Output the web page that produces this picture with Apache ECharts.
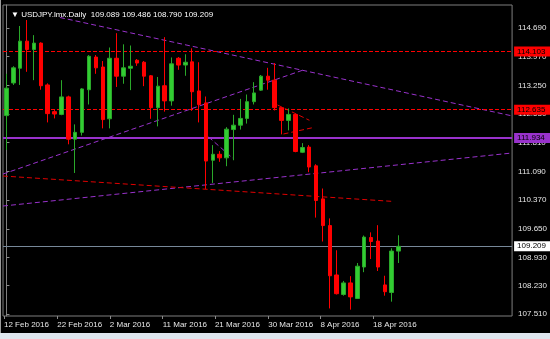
<!DOCTYPE html>
<html><head><meta charset="utf-8">
<script src="https://cdn.jsdelivr.net/npm/echarts@6/dist/echarts.min.js"></script>
<style>html,body{margin:0;padding:0;background:#000;}#c{width:550px;height:339px;}</style>
</head><body><div id="c"></div>
<script>
const symbolName = 'USDJPY.lmx.Daily';
const dates = ['2016-02-12','2016-02-14','2016-02-15','2016-02-16','2016-02-17','2016-02-18','2016-02-19',
 '2016-02-21','2016-02-22','2016-02-23','2016-02-24','2016-02-25','2016-02-26',
 '2016-02-28','2016-02-29','2016-03-01','2016-03-02','2016-03-03','2016-03-04',
 '2016-03-06','2016-03-07','2016-03-08','2016-03-09','2016-03-10','2016-03-11',
 '2016-03-13','2016-03-14','2016-03-15','2016-03-16','2016-03-17','2016-03-18',
 '2016-03-20','2016-03-21','2016-03-22','2016-03-23','2016-03-24','2016-03-25',
 '2016-03-27','2016-03-28','2016-03-29','2016-03-30','2016-03-31','2016-04-01',
 '2016-04-03','2016-04-04','2016-04-05','2016-04-06','2016-04-07','2016-04-08',
 '2016-04-10','2016-04-11','2016-04-12','2016-04-13','2016-04-14','2016-04-15',
 '2016-04-17','2016-04-18','2016-04-19'];
const opens  = [112.49,113.31,113.68,114.36,114.15,114.31,113.26,112.59,112.52,112.96,111.90,112.07,113.14,113.96,113.71,112.41,113.93,113.48,113.68,113.88,113.83,113.49,112.69,113.24,112.86,113.93,113.76,113.84,113.11,112.81,111.37,111.52,111.43,112.14,112.25,112.42,112.84,113.13,113.48,113.38,112.69,112.37,112.52,111.57,111.70,111.23,110.40,109.73,108.49,108.00,108.29,107.90,108.69,109.43,109.34,108.24,108.05,109.089];
const closes = [113.18,113.69,114.36,114.15,114.31,113.24,112.54,112.53,112.96,111.90,112.07,113.16,113.98,113.69,112.39,113.93,113.48,113.69,113.73,113.81,113.48,112.69,113.23,112.86,113.79,113.76,113.83,113.09,112.77,111.35,111.52,111.43,112.15,112.25,112.42,112.84,113.06,113.48,113.38,112.69,112.37,112.52,111.59,111.69,111.20,110.36,109.73,108.47,108.02,108.29,107.94,108.71,109.44,109.33,108.69,108.07,109.09,109.209];
const lows   = [111.63,113.26,113.26,113.59,113.38,113.14,112.32,112.42,112.50,111.77,111.05,111.99,112.77,113.54,112.17,112.17,113.21,113.29,113.13,113.74,113.23,112.41,112.22,112.59,112.74,113.64,113.49,112.61,112.32,110.65,110.80,111.33,111.22,111.37,112.14,112.29,112.77,113.11,113.14,112.62,112.02,112.12,111.57,111.55,111.07,109.93,109.33,107.65,108.00,107.97,107.62,107.89,108.56,108.89,108.59,107.97,107.82,108.790];
const highs  = [113.54,113.73,114.74,114.89,114.51,114.33,113.30,112.65,113.38,112.99,112.27,113.18,114.01,114.01,113.86,114.20,114.56,114.28,114.25,113.91,113.86,113.51,113.46,114.46,113.95,113.96,114.03,114.18,113.83,112.97,111.75,111.60,112.20,112.51,112.91,113.02,113.33,113.51,113.69,113.81,112.69,112.67,112.54,111.80,111.75,111.27,110.66,109.91,109.11,108.34,108.46,108.79,109.48,109.56,109.74,108.47,109.16,109.486];
const priceTicks = [114.690,113.970,113.250,112.530,111.810,111.090,110.370,109.650,108.930,108.230,107.510];
const dateTickLabels = ['12 Feb 2016','22 Feb 2016','2 Mar 2016','11 Mar 2016','21 Mar 2016','30 Mar 2016','8 Apr 2016','18 Apr 2016'];
const dateTickBars = [-0.355,7.379,15.025,22.715,30.304,38.052,45.641,53.287];
const redLevels = [114.103, 112.635];
const purpleLevel = 111.934;
const bidLevel = 109.209;
const purpleTrends = [
  [[7.77,114.954],[73.5,112.483]],
  [[-0.5,111.024],[43.03,113.628]],
  [[-0.5,110.221],[73.5,111.552]],
  [[29.39,111.953],[32.92,111.419]]
];
const redTrends = [
  [[-0.5,110.974],[55.94,110.339]],
  [[39.40,112.757],[44.04,112.373]],
  [[40.27,112.029],[44.77,112.197]]
];

const FONT = "'Liberation Sans', Arial, sans-serif";
const chart = echarts.init(document.getElementById('c'), null, {renderer:'canvas'});
const n = dates.length;
const last = n - 1;
const candleData = opens.map((o,i)=>[o, closes[i], lows[i], highs[i]]);
const fmt = v => v.toFixed(3);

function level(v, color, type, width, bg, fg) {
  return {
    yAxis: v,
    lineStyle: {color, type, width},
    label: {show:true, position:'end', distance:2, formatter: fmt(v), backgroundColor: bg, color: fg,
      fontSize: 8, fontFamily: FONT, padding:[1,6,1,3]}
  };
}

const series = [
  {
    type:'line', data:[], z:1, silent:true,
    markLine: {
      silent:true, symbol:['none','none'], animation:false,
      data: [
        ...redLevels.map(v => level(v, '#ff0000', [4,2], 1, '#ff0000', '#000')),
        level(purpleLevel, '#9932cc', 'solid', 2, '#9932cc', '#000'),
        level(bidLevel, '#778899', 'solid', 1, '#ffffff', '#000')
      ]
    }
  },
  ...purpleTrends.map(seg => ({
    type:'line', xAxisIndex:1, yAxisIndex:0, data: seg, symbol:'none', silent:true, z:2,
    lineStyle:{color:'#9932cc', width:1, type:[5,3]}
  })),
  ...redTrends.map(seg => ({
    type:'line', xAxisIndex:1, yAxisIndex:0, data: seg, symbol:'none', silent:true, z:2,
    lineStyle:{color:'#e00000', width:1, type:[5,3]}
  })),
  {
    type:'candlestick', data: candleData, barWidth: 4, z:5,
    itemStyle:{color:'#32cd32', color0:'#ff0000', borderColor:'#2aa82a', borderColor0:'#ff0000', borderWidth:1}
  }
];

chart.setOption({
  animation:false,
  backgroundColor:'#000',
  title: {
    text: '\u25BC ' + symbolName + '  ' + [opens[last], highs[last], lows[last], closes[last]].map(fmt).join(' '),
    left: 6, top: 6,
    textStyle:{color:'#ffffff', fontSize:8, fontWeight:'normal', fontFamily: FONT}
  },
  grid: {left:3, right:37, top:5, bottom:23, show:true, borderColor:'#7f7f7f', borderWidth:1, backgroundColor:'#000'},
  xAxis: [
    {type:'category', data: dates, max: 73, boundaryGap:true,
     axisLine:{show:false}, axisTick:{show:false}, axisLabel:{show:false}, splitLine:{show:false}},
    {type:'value', min:-0.5, max:73.5, position:'bottom',
     axisLine:{show:false}, splitLine:{show:false},
     axisTick:{show:true, length:3, customValues: dateTickBars, lineStyle:{color:'#8c8c8c'}},
     axisLabel:{show:true, customValues: dateTickBars, align:'left', margin:5, color:'#e6e6e6', fontSize:8, fontFamily:FONT,
       formatter: v => { const i = dateTickBars.findIndex(p => Math.abs(p - v) < 1e-6); return i >= 0 ? dateTickLabels[i] : ''; }}}
  ],
  yAxis: {
    type:'value', position:'right', min:107.46, max:115.267, scale:true,
    splitLine:{show:false},
    axisLine:{show:true, lineStyle:{color:'#7f7f7f'}},
    axisTick:{show:true, length:3, customValues: priceTicks, lineStyle:{color:'#8c8c8c'}},
    axisLabel:{customValues: priceTicks, formatter: fmt, margin:6, color:'#e6e6e6', fontSize:8, fontFamily:FONT}
  },
  graphic: [
    {type:'rect', shape:{x:0, y:333, width:550, height:6}, style:{fill:'#dfe7ef'}, silent:true},
    {type:'line', shape:{x1:0.5, y1:0, x2:0.5, y2:333}, style:{stroke:'#9a9a9a', lineWidth:1}, silent:true}
  ],
  series
});
</script></body></html>
